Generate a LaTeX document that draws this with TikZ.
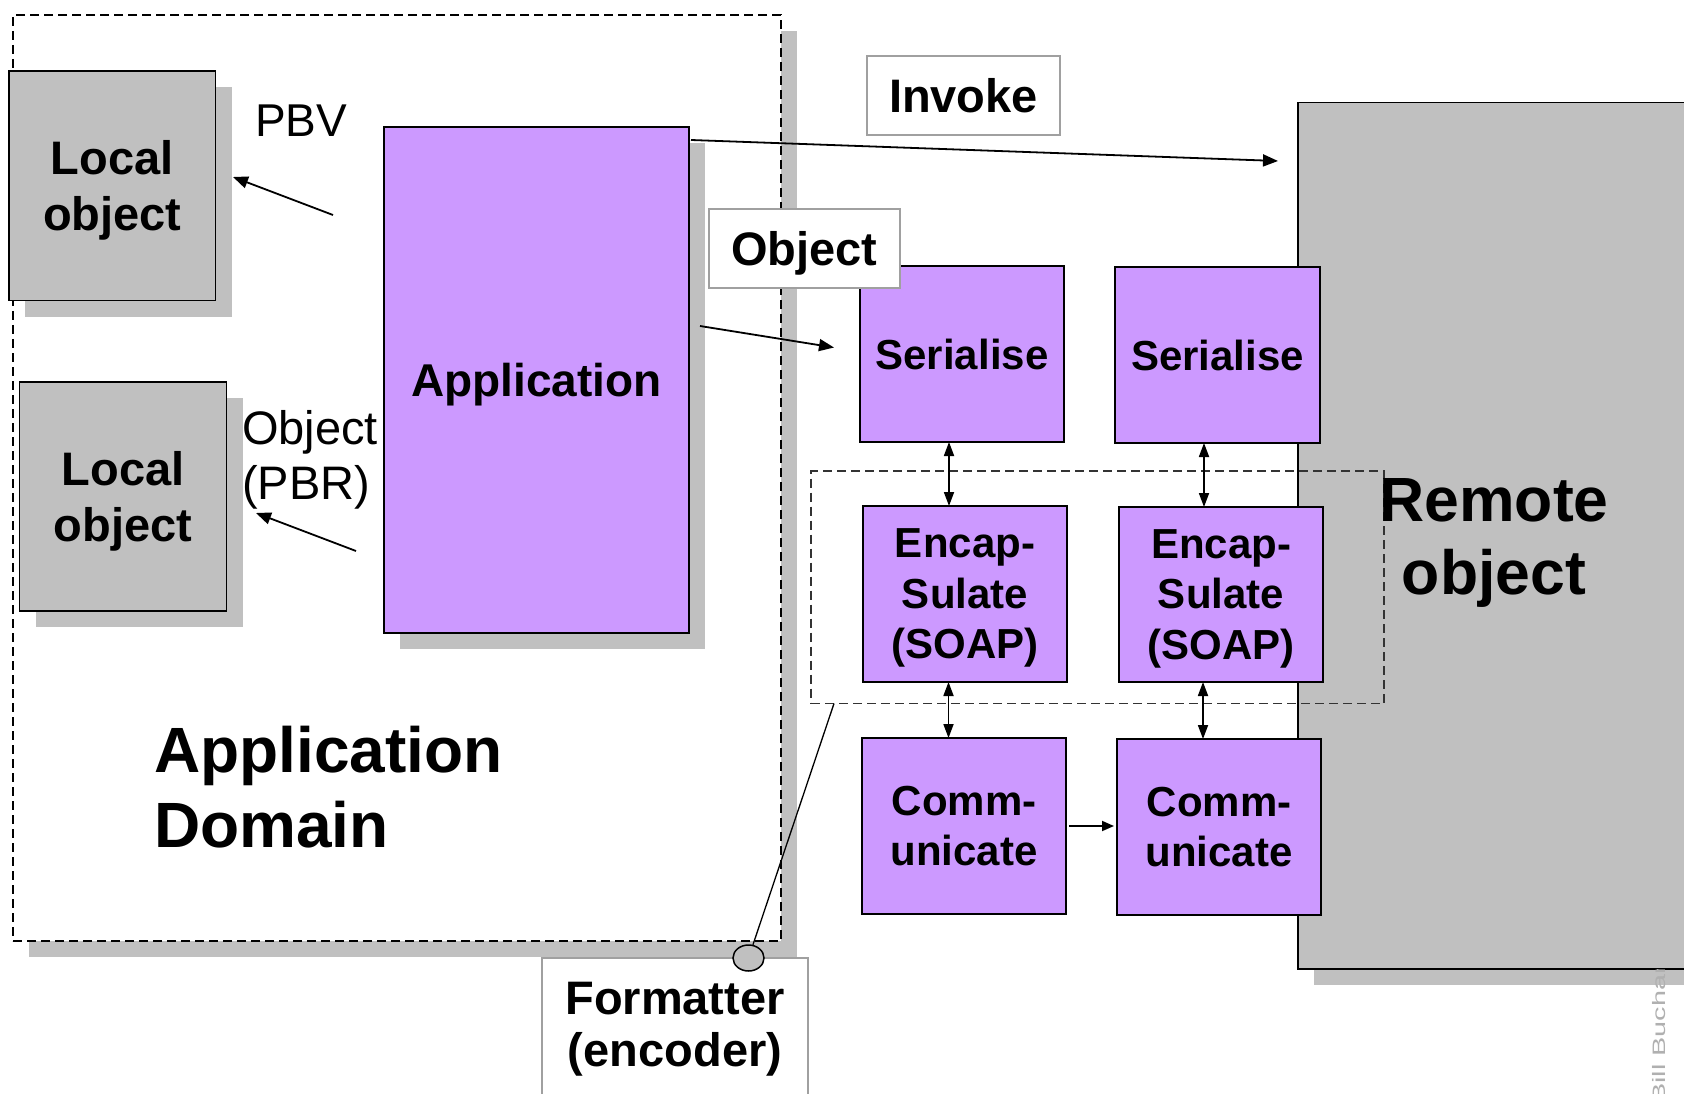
\documentclass[tikz,border=0pt]{standalone}
\usepackage{fontspec}
\setmainfont{Liberation Sans}
\usetikzlibrary{shapes.geometric,shadows,calc,arrows.meta}
\definecolor{lilac}{HTML}{CC99FF}
\definecolor{shade}{HTML}{C0C0C0}
\definecolor{rim}{HTML}{A0A0A0}
\definecolor{signgray}{HTML}{B0B0B0}
\begin{document}
\begin{tikzpicture}[x=1pt,y=-1pt,
  shad/.style={drop shadow={shadow xshift=16pt,shadow yshift=-16pt,fill=shade,opacity=1}},
  box/.style={draw=black,line width=1.6pt,inner sep=0pt,outer sep=0pt,anchor=north west,align=center,text depth=0pt},
  objbox/.style={box,fill=shade,shad,font=\fontsize{47}{56}\selectfont\bfseries},
  part/.style={box,fill=lilac,font=\fontsize{42}{50.5}\selectfont\bfseries},
  tag/.style={draw=rim,line width=1.3pt,fill=white,inner sep=0pt,outer sep=0pt,anchor=north west,text depth=0pt,font=\fontsize{47}{54}\selectfont\bfseries},
  frame/.style={draw=black,line width=1.4pt,dash pattern=on 9pt off 5pt,inner sep=0pt,outer sep=0pt,anchor=north west},
  arr/.style={line width=1.8pt,-{Triangle[length=15pt,width=12pt]}},
  dbl/.style={line width=1.8pt,{Triangle[length=14pt,width=10pt]}-{Triangle[length=14pt,width=10pt]}}
]
\useasboundingbox (0,0) rectangle (1684,1094);
\clip (0,0) rectangle (1684,1094);

% application domain
\node[frame,fill=white,shad,minimum width=768pt,minimum height=926pt] (domain) at (13,15) {};
\node[anchor=west,inner sep=0pt,align=left,text depth=0pt,font=\fontsize{64}{75}\selectfont\bfseries] (domaintext) at (154,787) {Application\\Domain};

\node[objbox,minimum width=206.5pt,minimum height=229.5pt] (lo1) at (9,71) {Local\\object};
\node[objbox,minimum width=207pt,minimum height=229pt] (lo2) at (19.5,382) {Local\\object};
\node[box,fill=lilac,shad,font=\fontsize{46}{55}\selectfont\bfseries,minimum width=305pt,minimum height=506pt] (app) at (384,127) {Application};

\node[anchor=base west,inner sep=0pt,font=\fontsize{46}{55}\selectfont] (pbv) at (255,137) {PBV};
\node[anchor=west,inner sep=0pt,align=left,text depth=0pt,font=\fontsize{47}{55}\selectfont] (pbr) at (242,454.5) {Object\\(PBR)};

% remote side
\node[box,fill=shade,shad,minimum width=420pt,minimum height=866.5pt] (remote) at (1298,102.5) {};

% author mark along the right margin, running under the remote box
\begin{scope}
  \clip (remote.south west) rectangle (1684,1094);
  \node[rotate=90,anchor=base west,inner sep=0pt,text=signgray,font=\fontsize{18}{18}\selectfont] (sig) at (1665,1103) {\scalebox{1.6}[1]{Bill Buchanan}};
\end{scope}

\node[part,minimum width=204pt,minimum height=176pt] (ser1) at (860,266) {Serialise};
\node[part,minimum width=205pt,minimum height=176pt] (ser2) at (1115,267) {Serialise};
\node[part,minimum width=204pt,minimum height=176pt] (enc1) at (863,506) {Encap-\\Sulate\\(SOAP)};
\node[part,minimum width=204pt,minimum height=175pt] (enc2) at (1119,507) {Encap-\\Sulate\\(SOAP)};
\node[part,minimum width=204pt,minimum height=176pt] (com1) at (862,738) {Comm-\\unicate};
\node[part,minimum width=204pt,minimum height=176pt] (com2) at (1117,739) {Comm-\\unicate};

\node[frame,draw=black!80,minimum width=573pt,minimum height=232.5pt] (fmtdash) at (811,471) {};

\node[inner sep=0pt,align=center,text depth=0pt,font=\fontsize{62.5}{73}\selectfont\bfseries] (remotetext) at (1494,536) {Remote\\object};

% labels
\node[tag,minimum width=193pt,minimum height=79pt] (invoke) at (867,56) {Invoke};
\node[tag,minimum width=191pt,minimum height=79pt] (objtag) at (709,209) {Object};

\node[tag,minimum width=266pt,minimum height=160pt] (fmtbox) at (542,958) {};
\node[inner sep=0pt,align=center,text depth=0pt,font=\fontsize{47}{52}\selectfont\bfseries] (fmt) at (675,1024) {Formatter\\(encoder)};
\node[ellipse,draw=black,line width=1.5pt,fill=shade,minimum width=31pt,minimum height=26pt,inner sep=0pt] (dot) at (748.5,958) {};
\draw[line width=1.3pt] ($(fmtdash.south west)+(23,0)$) -- (dot);

% connectors
\draw[arr] ($(app.north east)+(2,13)$) -- ($(remote.north west)+(-20,58.5)$);
\draw[arr] ($(app.north east)+(11,199)$) -- ($(ser1.north west)+(-26,81.5)$);
\draw[arr] ($(app.north west)+(-51,88)$) -- ($(lo1.north east)+(17.5,106)$);
\draw[arr] ($(app.north west)+(-28,424)$) -- ($(lo2.north east)+(29.5,131)$);

\draw[dbl] ([xshift=-13pt]ser1.south) -- ([xshift=-13pt]ser1.south |- enc1.north);
\draw[dbl] ([xshift=-13.5pt]ser2.south) -- ([xshift=-13.5pt]ser2.south |- enc2.north);
\draw[dbl] ([xshift=-16.5pt]enc1.south) -- ([xshift=-16.5pt]enc1.south |- com1.north);
\draw[dbl] ([xshift=-18pt]enc2.south) -- ([xshift=-18pt]enc2.south |- com2.north);
\draw[line width=1.8pt,-{Triangle[length=12pt,width=10pt]},shorten <=3pt,shorten >=3pt] (com1.east) -- (com1.east -| com2.west);
\end{tikzpicture}
\end{document}
